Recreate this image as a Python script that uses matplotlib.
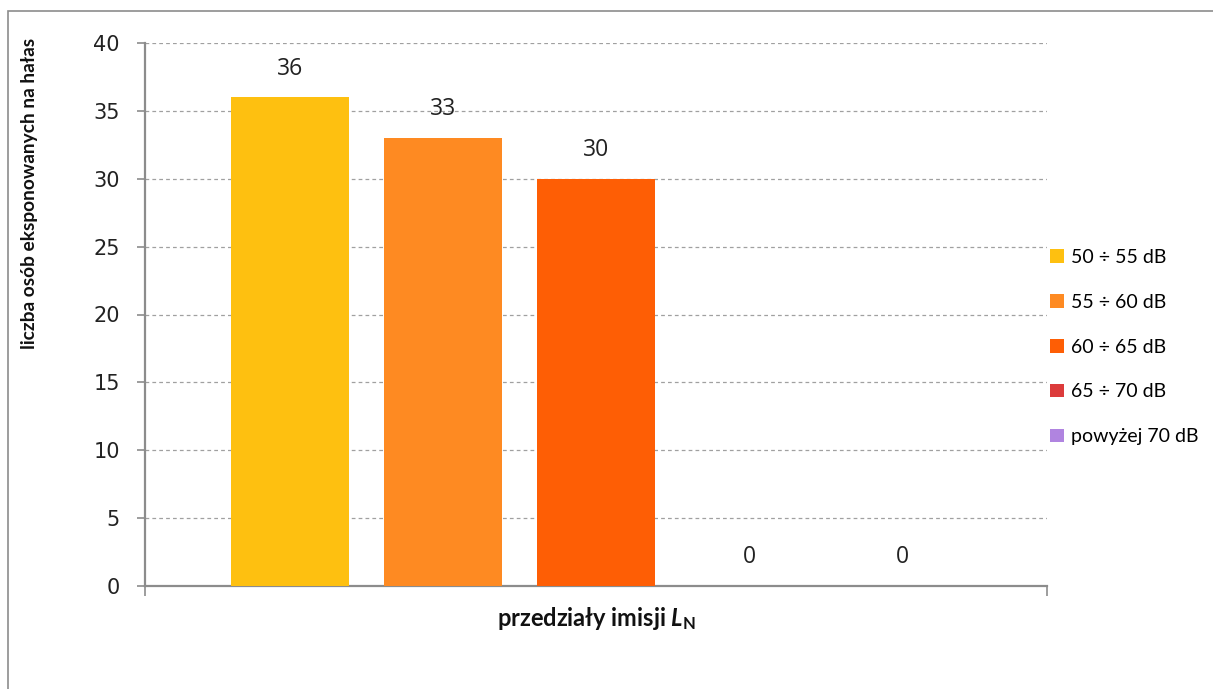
import matplotlib.pyplot as plt
from matplotlib.patches import Rectangle, Patch

plt.rcParams["mathtext.fontset"] = "custom"
plt.rcParams["mathtext.it"] = "Lato:italic:bold"
plt.rcParams["mathtext.rm"] = "Lato:bold"
plt.rcParams["mathtext.bf"] = "Lato:bold"

series = ["50 ÷ 55 dB", "55 ÷ 60 dB", "60 ÷ 65 dB", "65 ÷ 70 dB", "powyżej 70 dB"]
values = [36, 33, 30, 0, 0]
colors = ["#FEC010", "#FE8A22", "#FE5E05", "#DC3B3B", "#B084E0"]
y_ticks = [0, 5, 10, 15, 20, 25, 30, 35, 40]

W, H = 1213, 689
fig = plt.figure(figsize=(W / 100, H / 100), dpi=100)

# outer chart frame (runs off the right and bottom edges)
fig.patches.append(Rectangle((8 / W, -0.05), 1.1, 1 - 11 / H + 0.05,
                             transform=fig.transFigure, fill=False,
                             edgecolor="#8c8c8c", linewidth=1.2))

ax = fig.add_axes([145 / W, 1 - 586 / H, (1047 - 145) / W, (586 - 43) / H])

step = 0.1696
width = 0.131
n = len(values)
for i, (v, c) in enumerate(zip(values, colors)):
    x = (i - (n - 1) / 2) * step
    ax.bar(x, v, width=width, color=c, zorder=3)
    ax.annotate(str(v), (x, v), xytext=(0, 12), textcoords="offset points",
                ha="center", va="bottom", fontsize=16.5, family="Open Sans",
                color="#222222")

ax.set_xlim(-0.5, 0.5)
ax.set_ylim(0, 40)
ax.set_yticks(y_ticks)
ax.set_xticks([-0.5, 0.5])
ax.set_xticklabels([])
ax.yaxis.grid(True, linestyle=(0, (3, 2.5)), color="#a0a0a0", linewidth=0.9, zorder=0)
ax.tick_params(axis="y", length=6, width=1.2, color="#8c8c8c", labelsize=15,
               labelcolor="#222222", pad=12)
ax.tick_params(axis="x", length=7, width=1.2, color="#8c8c8c", direction="out")
for side in ["top", "right"]:
    ax.spines[side].set_visible(False)
for side in ["left", "bottom"]:
    ax.spines[side].set_color("#8c8c8c")
    ax.spines[side].set_linewidth(1.6)

fig.text(30 / W, 1 - 193 / H, "liczba osób eksponowanych na hałas", rotation=90,
         ha="center", va="center", fontsize=13.8, fontweight="bold",
         family="Lato", color="#111111")
fig.text(596 / W, 1 - 618 / H, r"przedziały imisji $L_\mathrm{N}$",
         ha="center", va="center", fontsize=17, fontweight="bold",
         family="Lato", color="#111111")

handles = [Patch(facecolor=c, edgecolor="none") for c in colors]
fig.legend(handles, series, loc="upper left", bbox_to_anchor=(1050 / W, 1 - 249 / H),
           frameon=False, prop={"family": "Lato", "size": 14}, handlelength=0.7,
           handleheight=0.7, handletextpad=0.4, labelspacing=1.43,
           borderaxespad=0, borderpad=0)

fig.savefig("out.png", dpi=100)
